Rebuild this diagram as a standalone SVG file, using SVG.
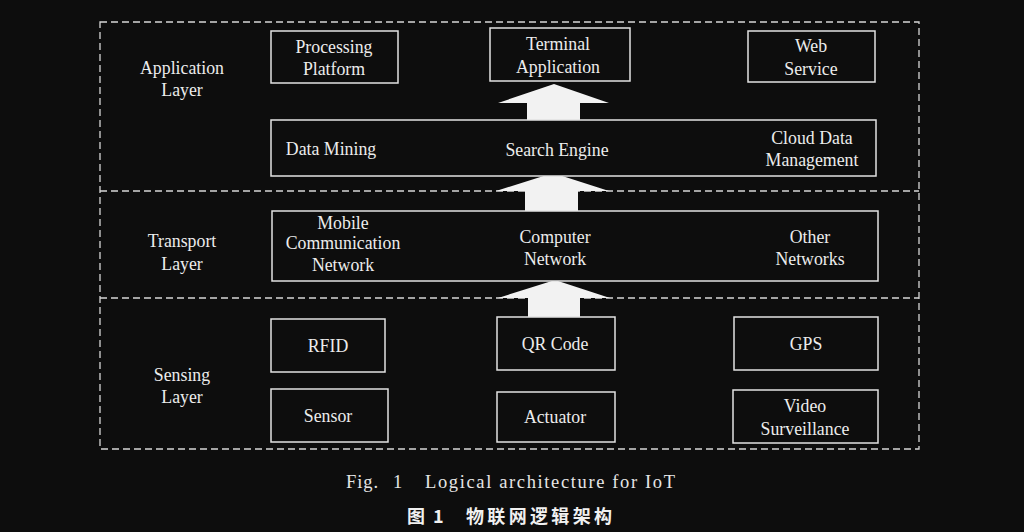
<svg xmlns="http://www.w3.org/2000/svg" width="1024" height="532" viewBox="0 0 1024 532">
<style>
.bg{fill:#0d0d0d}
.layer{fill:none;stroke:#d6d6d6;stroke-width:1.3;stroke-dasharray:7 4}
.box{fill:#0d0d0d;stroke:#e2e2e2;stroke-width:1.5}
.t{font-family:"Liberation Serif","Times New Roman",serif;font-size:17.8px;fill:#ececec;text-anchor:middle}
.arrow{fill:#f2f2f2}
.cap{font-family:"Liberation Serif","Times New Roman",serif;font-size:18.5px;fill:#e6e6e6}
.capcn{font-family:"Noto Sans CJK SC","Liberation Serif",sans-serif;font-size:18px;font-weight:bold;fill:#f0f0f0}
</style>
<rect class="bg" x="0" y="0" width="1024" height="532"/>
<g id="layers">
<path class="layer" d="M100 22 H919 V449 H100 Z"/>
<line class="layer" x1="100" y1="191" x2="919" y2="191"/>
<line class="layer" x1="100" y1="298" x2="919" y2="298"/>
</g>
<g id="connectors">
<polygon class="arrow" points="527,120 527,103 498,103 554,84 609,103 580,103 580,120"/>
<polygon class="arrow" points="525,211 525,191 496,191 553,173 609,191 578,191 578,211"/>
<polygon class="arrow" points="528,317 528,298 498,298 555,280 610,298 580,298 580,317"/>
</g>
<g id="label-application"><text class="t" x="182" y="74">Application</text><text class="t" x="182" y="96">Layer</text></g>
<g id="label-transport"><text class="t" x="182" y="247">Transport</text><text class="t" x="182" y="270">Layer</text></g>
<g id="label-sensing"><text class="t" x="182" y="381">Sensing</text><text class="t" x="182" y="403">Layer</text></g>
<g id="processing-platform"><rect class="box" x="271" y="31" width="127" height="52"/><text class="t" x="334" y="53">Processing</text><text class="t" x="334" y="75">Platform</text></g>
<g id="terminal-application"><rect class="box" x="490" y="28" width="140" height="53"/><text class="t" x="558" y="50">Terminal</text><text class="t" x="558" y="73">Application</text></g>
<g id="web-service"><rect class="box" x="748" y="31" width="127" height="51"/><text class="t" x="811" y="52">Web</text><text class="t" x="811" y="75">Service</text></g>
<g id="data-bar"><rect class="box" x="271" y="120" width="605" height="56"/><text class="t" x="331" y="155">Data Mining</text><text class="t" x="557" y="156">Search Engine</text><text class="t" x="812" y="144">Cloud Data</text><text class="t" x="812" y="166">Management</text></g>
<g id="network-bar"><rect class="box" x="272" y="211" width="606" height="70"/><text class="t" x="343" y="229">Mobile</text><text class="t" x="343" y="249">Communication</text><text class="t" x="343" y="271">Network</text><text class="t" x="555" y="243">Computer</text><text class="t" x="555" y="265">Network</text><text class="t" x="810" y="243">Other</text><text class="t" x="810" y="265">Networks</text></g>
<g id="rfid"><rect class="box" x="271" y="319" width="114" height="53"/><text class="t" x="328" y="352">RFID</text></g>
<g id="qr-code"><rect class="box" x="497" y="317" width="118" height="53"/><text class="t" x="555" y="350">QR Code</text></g>
<g id="gps"><rect class="box" x="734" y="317" width="144" height="53"/><text class="t" x="806" y="350">GPS</text></g>
<g id="sensor"><rect class="box" x="271" y="389" width="117" height="53"/><text class="t" x="328" y="422">Sensor</text></g>
<g id="actuator"><rect class="box" x="497" y="392" width="118" height="50"/><text class="t" x="555" y="423">Actuator</text></g>
<g id="video-surveillance"><rect class="box" x="733" y="390" width="145" height="53"/><text class="t" x="805" y="412">Video</text><text class="t" x="805" y="435">Surveillance</text></g>
<g id="caption">
<text class="cap" x="346" y="488" textLength="32" lengthAdjust="spacing">Fig.</text>
<text class="cap" x="393" y="488">1</text>
<text class="cap" x="425" y="488" textLength="250" lengthAdjust="spacing">Logical architecture for IoT</text>
<text class="capcn" x="407" y="523">图</text>
<text class="capcn" x="433" y="523">1</text>
<text class="capcn" x="466" y="523" textLength="146" lengthAdjust="spacing">物联网逻辑架构</text>
</g>
</svg>
